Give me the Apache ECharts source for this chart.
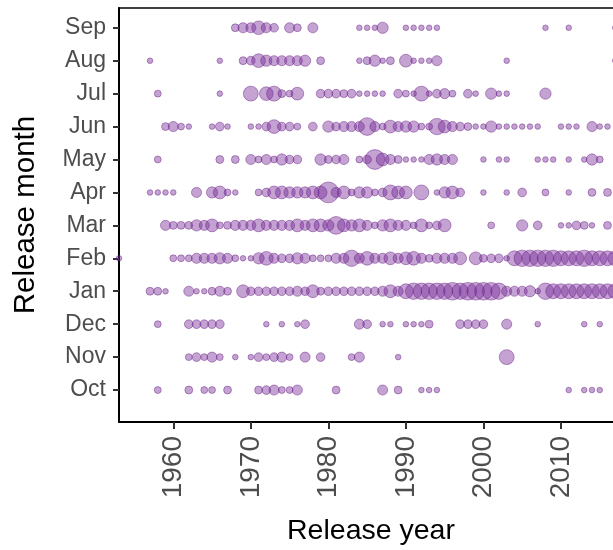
<!DOCTYPE html>
<html>
<head>
<meta charset="utf-8">
<script src="https://cdn.jsdelivr.net/npm/echarts@6/dist/echarts.min.js"></script>
<style>
  html, body { margin: 0; padding: 0; background: #fff; }
  #chart { width: 613px; height: 550px; }
</style>
</head>
<body>
<div id="chart"></div>
<script>
// months from bottom to top of the y axis
const months = ['Oct', 'Nov', 'Dec', 'Jan', 'Feb', 'Mar', 'Apr', 'May', 'Jun', 'Jul', 'Aug', 'Sep'];
const yearTicks = [1960, 1970, 1980, 1990, 2000, 2010];

// [release year, number of releases] per month
const oct = [[1958,2],[1962,3],[1964,2],[1965,2],[1967,3],[1971,3],[1972,4],[1973,6],[1974,2],[1975,2],[1976,6],[1981,3],[1987,6],[1989,3],[1992,1],[1993,1],[1994,1],[2011,1],[2013,1],[2014,1],[2015,1]];
const nov = [[1962,2],[1963,4],[1964,2],[1965,6],[1966,2],[1968,1],[1970,1],[1971,4],[1972,2],[1973,4],[1974,6],[1975,2],[1977,6],[1979,4],[1983,2],[1984,6],[1989,1],[2003,16]];
const dec = [[1958,2],[1962,4],[1963,4],[1964,4],[1965,4],[1966,4],[1972,1],[1974,1],[1976,1],[1977,4],[1984,6],[1985,4],[1987,1],[1988,1],[1990,1],[1991,1],[1992,1],[1993,3],[1997,4],[1998,4],[1999,4],[2000,4],[2003,6],[2007,1],[2013,1],[2015,1]];
const jan = [[1957,3],[1958,3],[1959,1],[1962,6],[1963,1],[1964,1],[1965,3],[1966,6],[1967,3],[1969,11],[1970,4],[1971,4],[1972,4],[1973,4],[1974,4],[1975,4],[1976,6],[1977,4],[1978,11],[1979,3],[1980,4],[1981,4],[1982,4],[1983,4],[1984,4],[1985,4],[1986,4],[1987,6],[1988,11],[1989,6],[1990,16],[1991,20],[1992,20],[1993,20],[1994,20],[1995,20],[1996,24],[1997,20],[1998,24],[1999,24],[2000,24],[2001,24],[2002,20],[2003,6],[2004,6],[2005,6],[2006,8],[2007,1],[2008,20],[2009,16],[2010,16],[2011,16],[2012,16],[2013,16],[2014,16],[2015,16],[2016,16],[2017,16]];
const feb = [[1953,1],[1960,2],[1961,2],[1962,2],[1963,6],[1964,6],[1965,6],[1966,8],[1967,6],[1968,2],[1969,1],[1970,1],[1971,8],[1972,13],[1973,6],[1974,4],[1975,4],[1976,8],[1977,6],[1978,2],[1979,2],[1980,2],[1981,6],[1982,6],[1983,20],[1984,6],[1985,13],[1986,6],[1987,6],[1988,11],[1989,6],[1990,11],[1991,13],[1992,6],[1993,3],[1994,6],[1995,6],[1996,6],[1997,11],[1999,11],[2000,3],[2001,4],[2002,4],[2003,1],[2004,16],[2005,20],[2006,20],[2007,20],[2008,20],[2009,20],[2010,16],[2011,16],[2012,16],[2013,20],[2014,16],[2015,16],[2016,16],[2017,16]];
const mar = [[1959,6],[1960,3],[1961,3],[1962,3],[1963,8],[1964,6],[1965,11],[1966,2],[1967,3],[1968,6],[1969,6],[1970,6],[1971,11],[1972,6],[1973,6],[1974,6],[1975,6],[1976,11],[1977,6],[1978,11],[1979,11],[1980,8],[1981,24],[1982,11],[1983,8],[1984,11],[1985,6],[1986,2],[1987,8],[1988,11],[1989,6],[1990,6],[1991,2],[1992,11],[1993,2],[1994,4],[1995,11],[2001,2],[2005,8],[2007,4],[2010,1],[2011,1],[2012,4],[2013,3],[2014,1],[2016,3]];
const apr = [[1957,1],[1958,1],[1959,1],[1960,1],[1963,6],[1965,8],[1966,11],[1967,2],[1968,1],[1971,2],[1972,4],[1973,11],[1974,11],[1975,8],[1976,8],[1977,8],[1978,11],[1979,11],[1980,35],[1981,6],[1982,11],[1983,2],[1984,8],[1985,8],[1986,2],[1987,4],[1988,16],[1989,11],[1990,11],[1992,16],[1994,1],[1995,8],[1996,11],[1997,4],[2000,1],[2003,1],[2005,4],[2008,2],[2011,1],[2014,3],[2016,3]];
const may = [[1958,2],[1966,3],[1968,3],[1970,6],[1971,2],[1972,6],[1973,2],[1974,8],[1975,4],[1976,4],[1979,8],[1980,3],[1981,4],[1982,6],[1984,2],[1985,4],[1986,31],[1987,11],[1988,6],[1989,3],[1990,1],[1991,1],[1992,1],[1993,6],[1994,8],[1995,6],[1996,6],[2000,1],[2002,1],[2003,1],[2007,1],[2008,1],[2009,1],[2011,1],[2013,1],[2014,8],[2015,2]];
const jun = [[1959,3],[1960,6],[1961,2],[1962,1],[1965,1],[1966,4],[1967,1],[1970,1],[1971,1],[1972,4],[1973,13],[1974,4],[1975,4],[1976,2],[1978,4],[1980,8],[1981,4],[1982,6],[1983,6],[1984,6],[1985,24],[1986,6],[1987,2],[1988,11],[1989,6],[1990,8],[1991,8],[1992,2],[1993,2],[1994,20],[1995,11],[1996,6],[1997,4],[1998,3],[1999,1],[2000,1],[2001,8],[2002,1],[2003,1],[2004,1],[2005,1],[2006,1],[2007,1],[2010,1],[2011,1],[2012,1],[2014,6],[2015,1],[2016,1]];
const jul = [[1958,2],[1966,1],[1970,16],[1972,13],[1973,16],[1974,3],[1975,2],[1976,11],[1979,4],[1980,4],[1981,4],[1982,3],[1983,4],[1984,1],[1985,1],[1986,1],[1987,1],[1989,4],[1990,2],[1991,1],[1992,16],[1993,1],[1994,4],[1995,6],[1996,2],[1998,4],[1999,1],[2001,8],[2002,1],[2003,1],[2008,8]];
const aug = [[1957,1],[1966,1],[1969,3],[1970,4],[1971,13],[1972,8],[1973,6],[1974,6],[1975,6],[1976,6],[1977,8],[1979,3],[1984,1],[1985,3],[1986,8],[1987,1],[1988,3],[1990,11],[1991,1],[1992,1],[1993,1],[1994,6],[2003,1],[2017,1]];
const sep = [[1968,3],[1969,6],[1970,6],[1971,13],[1972,6],[1973,4],[1975,6],[1976,3],[1978,6],[1984,1],[1985,1],[1986,1],[1987,8],[1990,1],[1991,1],[1992,1],[1993,1],[1994,1],[2008,1],[2011,1],[2017,1]];

const byMonth = [oct, nov, dec, jan, feb, mar, apr, may, jun, jul, aug, sep];

let points = [];
byMonth.forEach((rows, m) => {
  rows.forEach((r) => {
    points.push([r[0], m, r[1]]);
  });
});

const font = 'Liberation Sans, Arial, Helvetica, sans-serif';
const monthIdx = months.map((m, i) => i);
let chart = echarts.init(document.getElementById('chart'), null, { renderer: 'canvas' });

chart.setOption({
  animation: false,
  backgroundColor: '#fff',
  grid: {
    left: 119, top: 8, width: 504, height: 414,
    outerBoundsMode: 'none',
    containLabel: false,
    show: true, borderColor: '#000', borderWidth: 1.5, backgroundColor: 'transparent'
  },
  xAxis: {
    type: 'value',
    min: 1953, max: 2018,
    name: 'Release year',
    nameLocation: 'middle',
    nameGap: 95,
    nameTextStyle: { fontFamily: font, fontSize: 28.5, color: '#000' },
    axisLine: { show: true, onZero: false, lineStyle: { color: '#000', width: 2 } },
    axisTick: { show: true, length: 7, customValues: yearTicks, lineStyle: { color: '#333', width: 2 } },
    axisLabel: {
      customValues: yearTicks, rotate: 90, margin: 14,
      formatter: (v) => String(v),
      fontFamily: font, fontSize: 28, color: '#4d4d4d'
    },
    splitLine: { show: false }
  },
  yAxis: {
    type: 'value',
    min: -0.97, max: 11.6,
    name: 'Release month',
    nameLocation: 'middle',
    nameGap: 78,
    nameTextStyle: { fontFamily: font, fontSize: 29.5, color: '#000' },
    axisLine: { show: true, onZero: false, lineStyle: { color: '#000', width: 2 } },
    axisTick: { show: true, length: 6, customValues: monthIdx, lineStyle: { color: '#333', width: 2 } },
    axisLabel: {
      customValues: monthIdx,
      formatter: (v) => months[v],
      margin: 13,
      fontFamily: font, fontSize: 23, color: '#4d4d4d'
    },
    splitLine: { show: false }
  },
  series: [{
    type: 'scatter',
    data: points,
    symbol: 'circle',
    symbolSize: (d) => 2.5 + 3.1 * Math.sqrt(d[2]),
    itemStyle: {
      color: 'rgba(118, 40, 150, 0.54)',
      borderColor: 'rgba(100, 25, 130, 0.55)',
      borderWidth: 1
    }
  }]
});
</script>
</body>
</html>
